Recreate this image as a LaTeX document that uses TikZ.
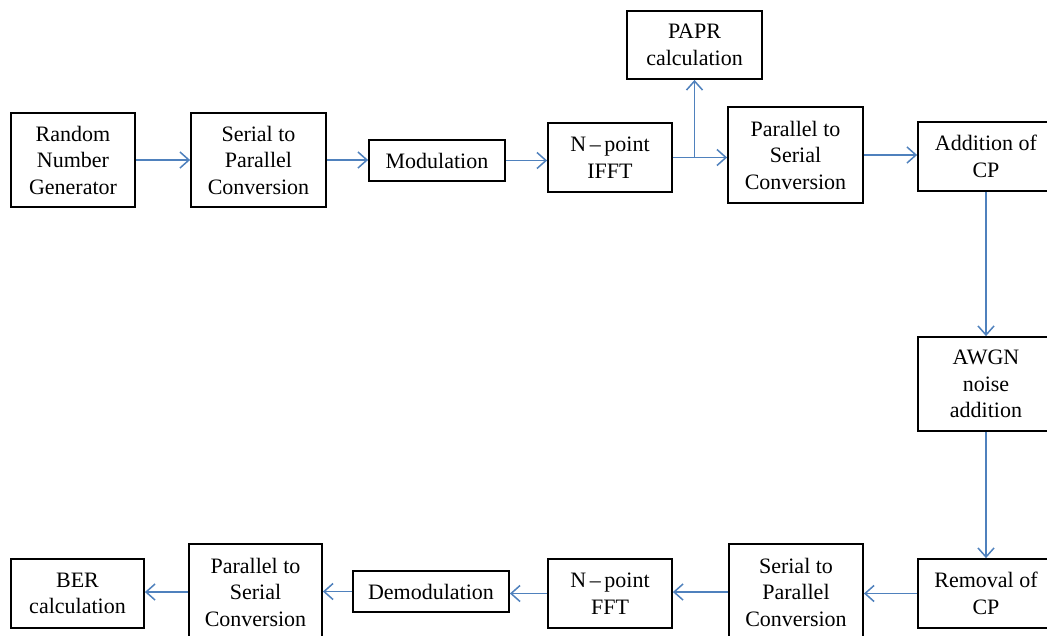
\documentclass[tikz,border=0pt]{standalone}
\usepackage{fontspec}
\setmainfont{Liberation Serif}
\usetikzlibrary{arrows.meta}
\definecolor{arrblue}{RGB}{79,129,189}
\begin{document}
\begin{tikzpicture}[x=1pt,y=-1pt,
  blk/.style={draw=black,line width=1.8pt,rectangle,inner sep=0pt,align=center,
    font=\fontsize{22}{26.5}\selectfont,fill=white},
  arr/.style={draw=arrblue,line width=1.7pt,-{Straight Barb[length=9pt,width=16pt,line width=1.5pt]}}]
\fill[white] (0,0) rectangle (1047,635);
\useasboundingbox (0,0) rectangle (1047,635);
\clip (0,0) rectangle (1047,635);
% top row
\node[blk,minimum width=124pt,minimum height=94pt] (rng) at (73,160) {Random\\Number\\Generator};
\node[blk,minimum width=135pt,minimum height=94pt] (sp1) at (258.5,160) {Serial to\\Parallel\\Conversion};
\node[blk,minimum width=136pt,minimum height=41pt] (mod) at (437,160.5) {Modulation};
\node[blk,minimum width=124pt,minimum height=69pt] (ifft) at (610,157.5) {N\,–\,point\\IFFT};
\node[blk,minimum width=135pt,minimum height=68pt] (papr) at (694.5,45) {PAPR\\calculation};
\node[blk,minimum width=135pt,minimum height=96pt] (ps1) at (795.5,155) {Parallel to\\Serial\\Conversion};
\node[blk,minimum width=136pt,minimum height=69pt] (add) at (986,156.5) {Addition of\\CP};
% right column
\node[blk,minimum width=136pt,minimum height=94pt] (awgn) at (986,384) {AWGN\\noise\\addition};
% bottom row
\node[blk,minimum width=136pt,minimum height=69pt] (rem) at (986,593.5) {Removal of\\CP};
\node[blk,minimum width=134pt,minimum height=96pt] (sp2) at (796,592) {Serial to\\Parallel\\Conversion};
\node[blk,minimum width=124pt,minimum height=69pt] (fft) at (610,593.5) {N\,–\,point\\FFT};
\node[blk,minimum width=156pt,minimum height=41pt] (demod) at (431,591.5) {Demodulation};
\node[blk,minimum width=133pt,minimum height=96pt] (ps2) at (255.5,592) {Parallel to\\Serial\\Conversion};
\node[blk,minimum width=133pt,minimum height=69pt] (ber) at (77.5,593.5) {BER\\calculation};
\coordinate (br) at (ifft.east -| papr.south);
% connectors
\draw[arr] (rng) -- (sp1);
\draw[arr] (sp1.east) -- (mod.west |- sp1.east);
\draw[arr] (mod) -- (ifft.west |- mod.east);
\draw[arr] (ifft.east) -- (ps1.west |- ifft.east);
\draw[arr] (br) -- (papr.south);
\draw[arr] (ps1.east) -- (add.west |- ps1.east);
\draw[arr] (add) -- (awgn);
\draw[arr] (awgn) -- (rem);
\draw[arr] (rem.west) -- (sp2.east |- rem.west);
\draw[arr] (sp2.west) -- (fft.east |- sp2.west);
\draw[arr] (fft.west) -- (demod.east |- fft.west);
\draw[arr] (demod.west) -- (ps2.east |- demod.west);
\draw[arr] (ps2.west) -- (ber.east |- ps2.west);
\end{tikzpicture}
\end{document}
